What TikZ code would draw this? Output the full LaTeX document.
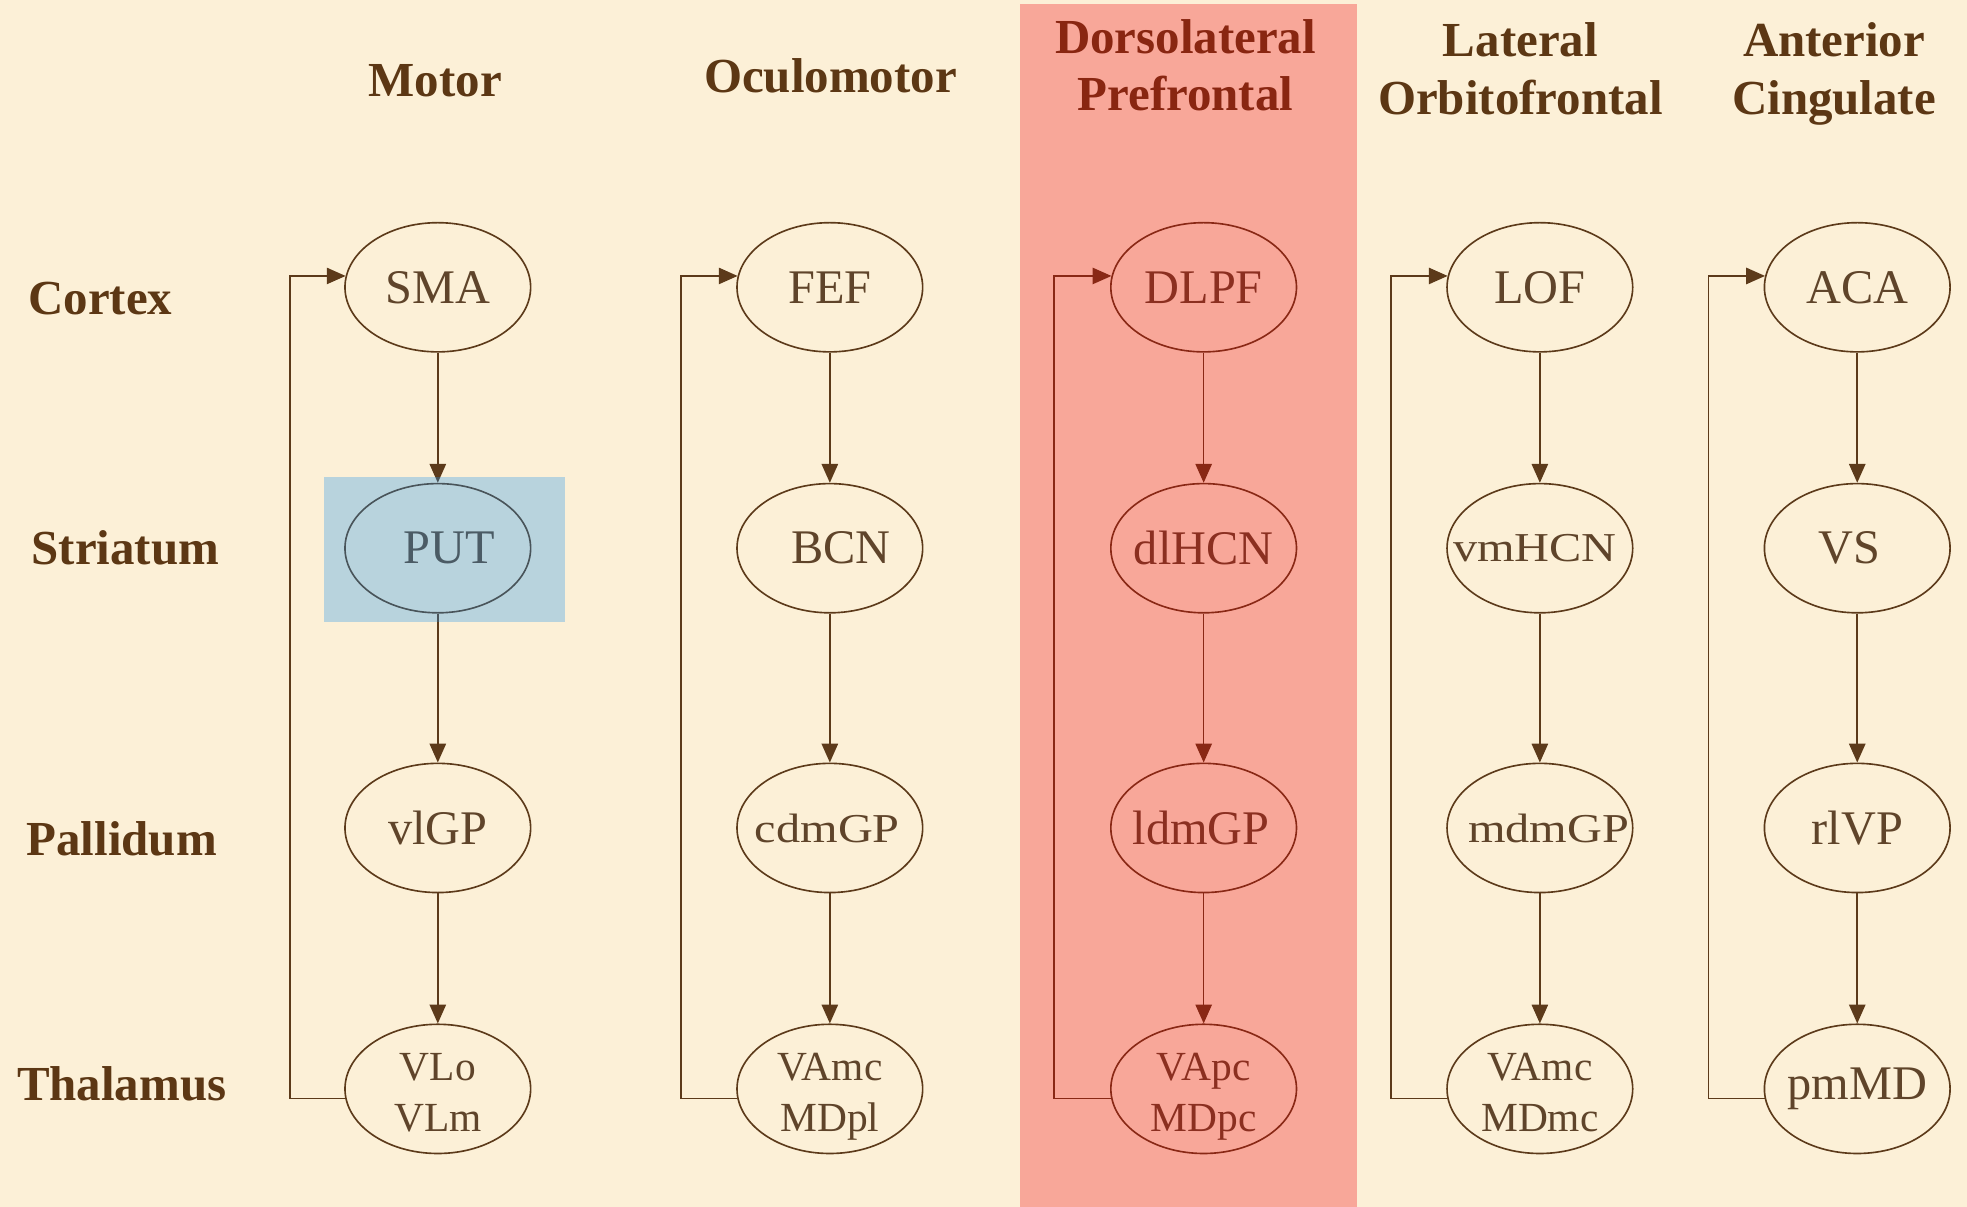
\documentclass[tikz,border=0pt]{standalone}
\usepackage{fontspec}
\setmainfont{Liberation Serif}
\usetikzlibrary{arrows.meta,shapes.geometric}
\definecolor{bg}{RGB}{252,240,215}
\definecolor{ttl}{RGB}{92,55,20}
\definecolor{txt}{RGB}{95,68,42}
\definecolor{ln}{RGB}{92,58,26}
\definecolor{redov}{RGB}{242,0,12}
\definecolor{blueov}{RGB}{30,147,238}
\newcommand{\sq}[1]{\scalebox{1}[0.85]{#1}}
\begin{document}
\begin{tikzpicture}[x=1pt,y=-1pt,
  ell/.style={ellipse,draw=ln,line width=1.3pt,minimum width=148pt,minimum height=103pt,inner sep=0pt},
  lbl/.style={text=txt,font=\fontsize{38.5}{40}\selectfont,align=center,inner sep=0pt},
  two/.style={text=txt,font=\fontsize{33}{40.5}\selectfont,align=center,inner sep=0pt,yshift=-3pt},
  twod/.style={two,yshift=-3.5pt},
  ttlfont/.style={text=ttl,font=\bfseries\fontsize{39}{46}\selectfont,inner sep=0pt,align=center},
  arr/.style={draw=ln,line width=1.3pt,-{Triangle[length=15pt,width=13pt]}},
  fb/.style={draw=ln,line width=1.3pt,-{Triangle[length=15pt,width=13pt]}}]
\fill[bg] (0,0) rectangle (1568,962);
\useasboundingbox (0,0) rectangle (1568,962);

% column titles
\node[ttlfont,anchor=base] (tM) at (347,77) {Motor};
\node[ttlfont,anchor=base] (tO) at (662,74) {Oculomotor};
\node[ttlfont,anchor=north] (tD) at (945,15) {Dorsolateral\\Prefrontal};
\node[ttlfont,anchor=north] (tL) at (1212,18) {Lateral\\Orbitofrontal};
\node[ttlfont,anchor=north] (tA) at (1462,18) {Anterior\\Cingulate};

% row labels
\node[ttlfont,anchor=base] (rC) at (80,251) {Cortex};
\node[ttlfont,anchor=base] (rS) at (100,450) {Striatum};
\node[ttlfont,anchor=base] (rP) at (97,682) {Pallidum};
\node[ttlfont,anchor=base] (rT) at (97,877) {Thalamus};

% Motor
\node[ell,label={[lbl]center:SMA}] (m1) at (349,229) {};
\node[ell,label={[lbl,xshift=9pt]center:PUT}] (m2) at (349,437) {};
\node[ell,label={[lbl]center:vlGP}] (m3) at (349,660) {};
\node[ell,label={[two]center:VLo\\VLm}] (m4) at (349,868) {};
% Oculomotor
\node[ell,label={[lbl]center:FEF}] (o1) at (661.5,229) {};
\node[ell,label={[lbl,xshift=9pt]center:BCN}] (o2) at (661.5,437) {};
\node[ell,label={[lbl,xshift=-2pt]center:\sq{cdmGP}}] (o3) at (661.5,660) {};
\node[ell,label={[twod]center:VAmc\\MDpl}] (o4) at (661.5,868) {};
% DLPF
\node[ell,label={[lbl]center:DLPF}] (d1) at (959.5,229) {};
\node[ell,label={[lbl]center:dlHCN}] (d2) at (959.5,437) {};
\node[ell,label={[lbl,xshift=-2pt]center:ldmGP}] (d3) at (959.5,660) {};
\node[ell,label={[twod]center:VApc\\MDpc}] (d4) at (959.5,868) {};
% LOF
\node[ell,label={[lbl]center:LOF}] (l1) at (1227.5,229) {};
\node[ell,label={[lbl,xshift=-4pt]center:\sq{vmHCN}}] (l2) at (1227.5,437) {};
\node[ell,label={[lbl,xshift=7pt]center:\sq{mdmGP}}] (l3) at (1227.5,660) {};
\node[ell,label={[two]center:VAmc\\MDmc}] (l4) at (1227.5,868) {};
% ACA
\node[ell,label={[lbl]center:ACA}] (a1) at (1480.5,229) {};
\node[ell,label={[lbl,xshift=-6pt]center:VS}] (a2) at (1480.5,437) {};
\node[ell,label={[lbl]center:rlVP}] (a3) at (1480.5,660) {};
\node[ell,label={[lbl]center:pmMD}] (a4) at (1480.5,868) {};

% loop x positions
\coordinate (xm) at (231,0);
\coordinate (xo) at (543,0);
\coordinate (xd) at (840,0);
\coordinate (xl) at (1109,0);
\coordinate (xa) at (1362,0);

\foreach \c/\x in {m/xm,o/xo,d/xd,l/xl,a/xa}{
  \draw[arr] (\c1) -- (\c2);
  \draw[arr] (\c2) -- (\c3);
  \draw[arr] (\c3) -- (\c4);
  \draw[fb] (\c4.186) -- (\c4.186 -| \x) |- (\c1.173);
}

% highlight overlays
\fill[redov,fill opacity=0.3] (813,3) rectangle (1082,962);
\fill[blueov,fill opacity=0.3] (258,380) rectangle (450,496);
\end{tikzpicture}
\end{document}
